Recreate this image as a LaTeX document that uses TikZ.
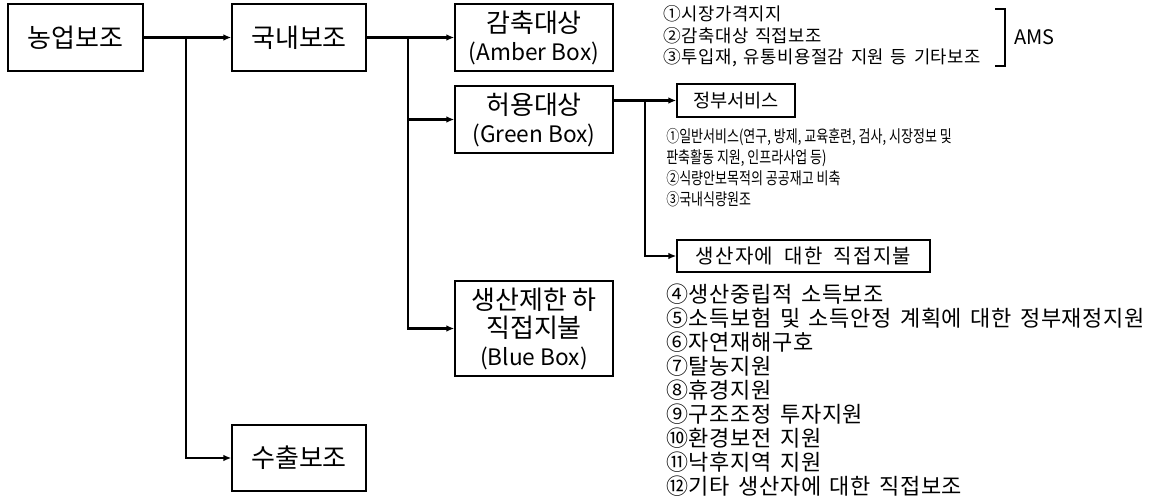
\documentclass[tikz,border=0pt]{standalone}
\usepackage{fontspec}
\setmainfont{Noto Sans CJK KR}
\newfontfamily\krspaced[LetterSpace=3,WordSpace=1.5]{Noto Sans CJK KR}
\newfontfamily\krnarrow[FakeStretch=0.78]{Noto Sans CJK KR}
\newfontfamily\krlabel[LetterSpace=6,WordSpace=2]{Noto Sans CJK KR}
\usetikzlibrary{arrows.meta}

\newcommand\latinline[1]{{\fontsize{17}{21}\selectfont #1}}

\tikzset{
  box/.style 2 args={draw=black, line width=1pt, fill=white, align=center,
    minimum width=#1*0.75pt, minimum height=#2*0.75pt, inner sep=0pt,
    font=\fontsize{19.5}{21}\selectfont},
  conn/.style={line width=1.6pt, -{Latex[length=6pt,width=5pt]}},
  ambertext/.style={align=left, inner sep=0pt, anchor=west,
    font=\krspaced\fontsize{13.3}{16}\selectfont},
  greentext/.style={align=left, inner sep=0pt, anchor=west,
    font=\krnarrow\fontsize{12.5}{15.75}\selectfont},
  bluetext/.style={align=left, inner sep=0pt, anchor=west,
    font=\krspaced\fontsize{16.5}{18}\selectfont},
}

\begin{document}
\begin{tikzpicture}[x=0.75pt, y=-0.75pt]
  \useasboundingbox (0,0) rectangle (1161,500);

  % boxes
  \node[box={135}{67}] (nong)   at (75.5,37.5) {농업보조};
  \node[box={134}{67}] (guknae) at (299,37.5)  {국내보조};
  \node[box={134}{66}] (suchul) at (299,458)   {수출보조};
  \node[box={158}{67}] (amber)  at (534,37.5)  {감축대상\\\latinline{(Amber Box)}};
  \node[box={158}{67}] (green)  at (534,119.5) {허용대상\\\latinline{(Green Box)}};
  \node[box={158}{95}] (blue)   at (534,328.5) {생산제한 하\\직접지불\\\latinline{(Blue Box)}};
  \node[box={118}{33}, font=\fontsize{14}{17}\selectfont] (gov) at (736,100.5) {정부서비스};
  \node[box={253}{32}, font=\krlabel\fontsize{15}{17}\selectfont] (direct) at (803.5,256) {생산자에 대한 직접지불};

  % branching points
  \coordinate (j1) at (186,37.5);
  \coordinate (j2) at (408,37.5);
  \coordinate (j3) at (645,100.5);

  % connectors
  \draw[conn] (nong) -- (guknae);
  \draw[conn] (j1) |- (suchul);
  \draw[conn] (guknae) -- (amber);
  \draw[conn] (j2) |- (blue);
  \draw[conn] (j2 |- green) -- (green);
  \draw[conn] (green.east |- gov) -- (gov);
  \draw[conn] (j3) |- (direct);

  % item lists
  \node[ambertext] (amblist) at (663,36.5)
    {①시장가격지지\\②감축대상 직접보조\\③투입재, 유통비용절감 지원 등 기타보조};
  \draw[line width=1.1pt] (995,9) -- (1005,9) -- (1005,66) -- (995,66);
  \node[anchor=west, inner sep=0pt, font=\fontsize{15}{18}\selectfont] (ams) at (1014,37.5) {AMS};

  \node[greentext] (grnlist) at (666,167.5)
    {①일반서비스(연구, 방제, 교육훈련, 검사, 시장정보 및\\판축활동 지원, 인프라사업 등)\\②식량안보목적의 공공재고 비축\\③국내식량원조};

  \node[bluetext] (blulist) at (666,390)
    {④생산중립적 소득보조\\⑤소득보험 및 소득안정 계획에 대한 정부재정지원\\⑥자연재해구호\\⑦탈농지원\\⑧휴경지원\\⑨구조조정 투자지원\\⑩환경보전 지원\\⑪낙후지역 지원\\⑫기타 생산자에 대한 직접보조};
\end{tikzpicture}
\end{document}
